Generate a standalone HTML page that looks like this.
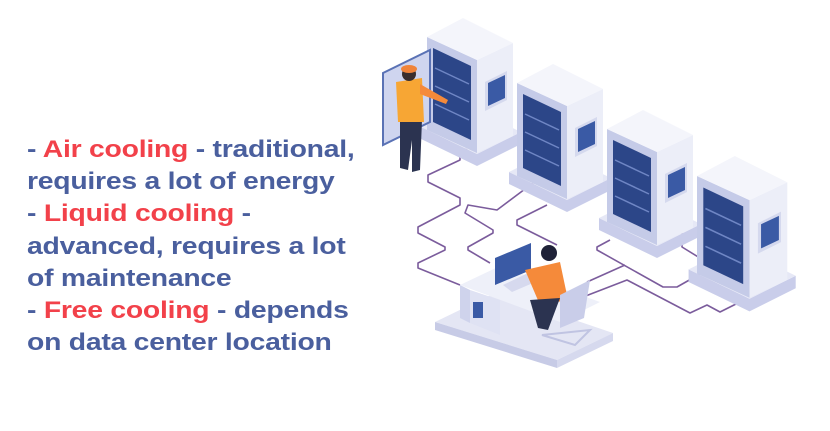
<!DOCTYPE html>
<html><head><meta charset="utf-8"><style>
html,body{margin:0;padding:0;background:#fff;width:830px;height:431px;overflow:hidden}
#t{position:absolute;left:27px;top:134px;font-family:"Liberation Sans",Arial,sans-serif;font-weight:bold;font-size:24px;line-height:32.2px;color:#4a5f9e;white-space:nowrap;letter-spacing:-0.2px;transform:scaleX(1.18);transform-origin:0 0}
.r{color:#f2414a}
svg{position:absolute;left:0;top:0}
</style></head><body>
<svg width="830" height="431" viewBox="0 0 830 431">
<defs>
<g id="srv">
 <polygon points="-8,108 50,136 94,114 94,126 50,148 -8,120" fill="#c9cdea"/>
 <polygon points="-8,108 36,86 94,114 50,136" fill="#e6e8f6"/>
 <polygon points="0,19 50,42 50,135 0,112" fill="#c5cbe8"/>
 <polygon points="50,42 86,25 86,118 50,135" fill="#eceef8"/>
 <polygon points="0,19 50,42 86,25 36,0" fill="#f4f5fb"/>
 <polygon points="6,30 44,48 44,122 6,104" fill="#2c4688"/>
 <g stroke="#6f86c4" stroke-width="1.5">
  <line x1="8" y1="50" x2="42" y2="66"/><line x1="8" y1="68" x2="42" y2="84"/><line x1="8" y1="86" x2="42" y2="102"/>
 </g>
 <polygon points="58,64 80,53 80,82 58,93" fill="#d5d9ee"/>
 <polygon points="61,65 78,57 78,80 61,88" fill="#3a5aa5"/>
</g>
</defs>
<g fill="none" stroke="#7b5c9c" stroke-width="1.6" stroke-linejoin="round">
 <polyline points="470,147 460,152 460,160 428,175 428,182 460,198 460,205 418,227 418,233 445,247 445,250 418,263 418,268 460,285"/>
 <polyline points="537,170 537,180 497,210 468,205 465,213 493,230 493,233 468,247 468,250 490,263"/>
 <polyline points="547,205 517,220 517,225 557,245"/>
 <polyline points="610,240 597,247 597,250 663,287 677,287 707,270"/>
 <polyline points="682,207 682,247 708,263"/>
 <polyline points="583,297 627,280 690,313 707,305 720,312 738,303"/>
 <polyline points="625,265 587,282"/>
</g>
<use href="#srv" transform="translate(427,18)"/>
<use href="#srv" transform="translate(517,64)"/>
<use href="#srv" transform="translate(607,110)"/>
<use href="#srv" transform="translate(697,156) scale(1.05)"/>
<polygon points="383,73 430,50 430,122 383,145" fill="#cfd5ef" stroke="#5a72b5" stroke-width="2"/>
<polygon points="400,120 422,120 420,170 412,172 412,140 408,170 400,168" fill="#2b3350"/>
<polygon points="396,82 422,78 424,122 398,122" fill="#f7a634"/>
<polygon points="420,84 448,100 446,104 420,94" fill="#f58a3a"/>
<circle cx="409" cy="74" r="7" fill="#3a2e2e"/>
<ellipse cx="409" cy="69" rx="8" ry="4" fill="#f0843a"/>
<polygon points="435,322 495,293 613,333 557,360" fill="#e4e6f4"/>
<polygon points="435,322 557,360 557,368 435,330" fill="#c7cbe6"/>
<polygon points="557,360 613,333 613,341 557,368" fill="#d6d9ee"/>
<polygon points="460,285 500,266 600,302 560,322" fill="#eef0f9"/>
<polygon points="460,285 460,318 470,323 470,290" fill="#cfd3ec"/>
<polygon points="470,290 500,300 500,335 470,323" fill="#dfe2f3"/>
<rect x="473" y="302" width="10" height="16" fill="#3a5aa5"/>
<polygon points="495,258 531,243 531,270 495,285" fill="#3a5aa5"/>
<polygon points="503,285 530,272 540,280 512,292" fill="#d6d9ee"/>
<polygon points="525,270 560,262 568,300 540,305" fill="#f58a3a"/>
<polygon points="530,300 560,298 548,330 538,328" fill="#2b3350"/>
<circle cx="549" cy="253" r="8" fill="#1f2238"/>
<polygon points="560,295 590,280 584,318 560,328" fill="#c9cde9"/>
<polygon points="542,335 590,330 575,345" fill="none" stroke="#c0c4e2" stroke-width="2"/>
</svg>
<div id="t">- <span class="r">Air cooling</span> - traditional,<br>requires a lot of energy<br>- <span class="r">Liquid cooling</span> -<br>advanced, requires a lot<br>of maintenance<br>- <span class="r">Free cooling</span> - depends<br>on data center location</div>
</body></html>
